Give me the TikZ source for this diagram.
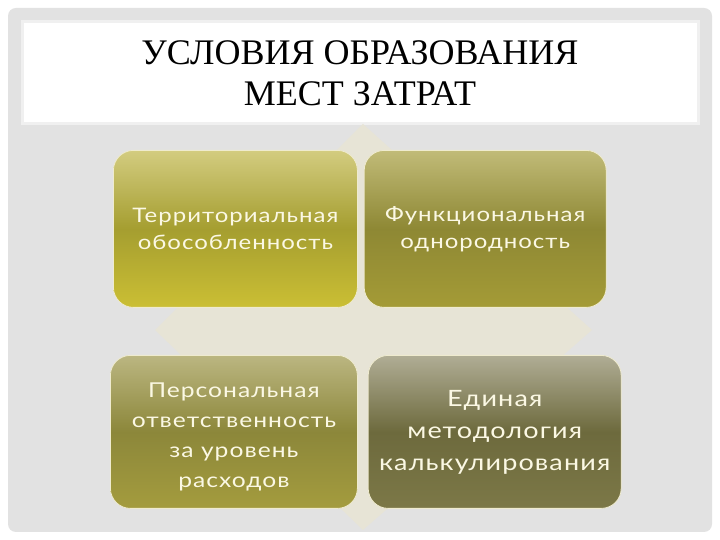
\documentclass[tikz,border=0pt]{standalone}
\usepackage{fontspec}
\setmainfont{Liberation Serif}
\newfontfamily\boxfont{Lato}[FakeStretch=1.2, LetterSpace=5]
\usetikzlibrary{positioning}
\definecolor{framegray}{HTML}{E2E2E2}
\definecolor{cream}{HTML}{E7E4D6}
\definecolor{boxtext}{HTML}{FBF8E4}
\definecolor{boxrim}{HTML}{EFEBCF}
\definecolor{terrtop}{HTML}{D3CC80}
\definecolor{terrmid}{HTML}{A59E30}
\definecolor{terrbot}{HTML}{CBBF34}
\definecolor{functop}{HTML}{C1BB78}
\definecolor{funcmid}{HTML}{8E8834}
\definecolor{funcbot}{HTML}{A49B36}
\definecolor{perstop}{HTML}{BBB681}
\definecolor{persmid}{HTML}{8C873A}
\definecolor{persbot}{HTML}{A49C3E}
\definecolor{metodtop}{HTML}{B0AD95}
\definecolor{metodmid}{HTML}{6D6A3D}
\definecolor{metodbot}{HTML}{7C7847}
\tikzset{
  titlebox/.style={
    rectangle, fill=white, draw=white!94!black, line width=3pt,
    minimum width=676pt, minimum height=102pt, align=center,
    font=\fontsize{36}{41}\selectfont
  },
  cellbox/.style={
    rectangle, rounded corners=20pt, anchor=north west, align=center,
    text=boxtext, inner sep=2pt, draw=boxrim, line width=0.8pt
  },
  small/.style={font=\boxfont\fontsize{20}{27}\selectfont},
  big/.style={font=\boxfont\fontsize{20.5}{30}\selectfont},
  bigger/.style={font=\boxfont\fontsize{22.5}{32}\selectfont}
}

\begin{document}
\begin{tikzpicture}[x=1pt,y=1pt]
    \useasboundingbox (0,0) rectangle (720,540);
    \fill[white] (0,0) rectangle (720,540);
    \fill[framegray, rounded corners=8pt] (8,8) rectangle (712,532);
    \node[titlebox] (title) at (360,467) {УСЛОВИЯ ОБРАЗОВАНИЯ\\МЕСТ ЗАТРАТ};

    \fill[cream] (363,416) -- (155,210) -- (363,10) -- (592,210) -- cycle;

    \node[cellbox, small, minimum width=244pt, minimum height=157pt,
      top color=terrtop, bottom color=terrbot, middle color=terrmid]
      (terr) at (113,390) {Территориальная\\обособленность};
    \node[cellbox, small, minimum width=242pt, minimum height=157pt,
      top color=functop, bottom color=funcbot, middle color=funcmid,
      right=6pt of terr.north east, anchor=north west]
      (func) {Функциональная\\однородность};
    \node[cellbox, big, minimum width=247pt, minimum height=153pt,
      top color=perstop, bottom color=persbot, middle color=persmid]
      (pers) at (110,185) {\rule{0pt}{24pt}Персональная\\ответственность\\за уровень\\расходов};
    \node[cellbox, bigger, minimum width=253pt, minimum height=153pt,
      top color=metodtop, bottom color=metodbot, middle color=metodmid,
      right=10pt of pers.north east, anchor=north west]
      (metod) {Единая\\методология\\калькулирования};
  \end{tikzpicture}
\end{document}
